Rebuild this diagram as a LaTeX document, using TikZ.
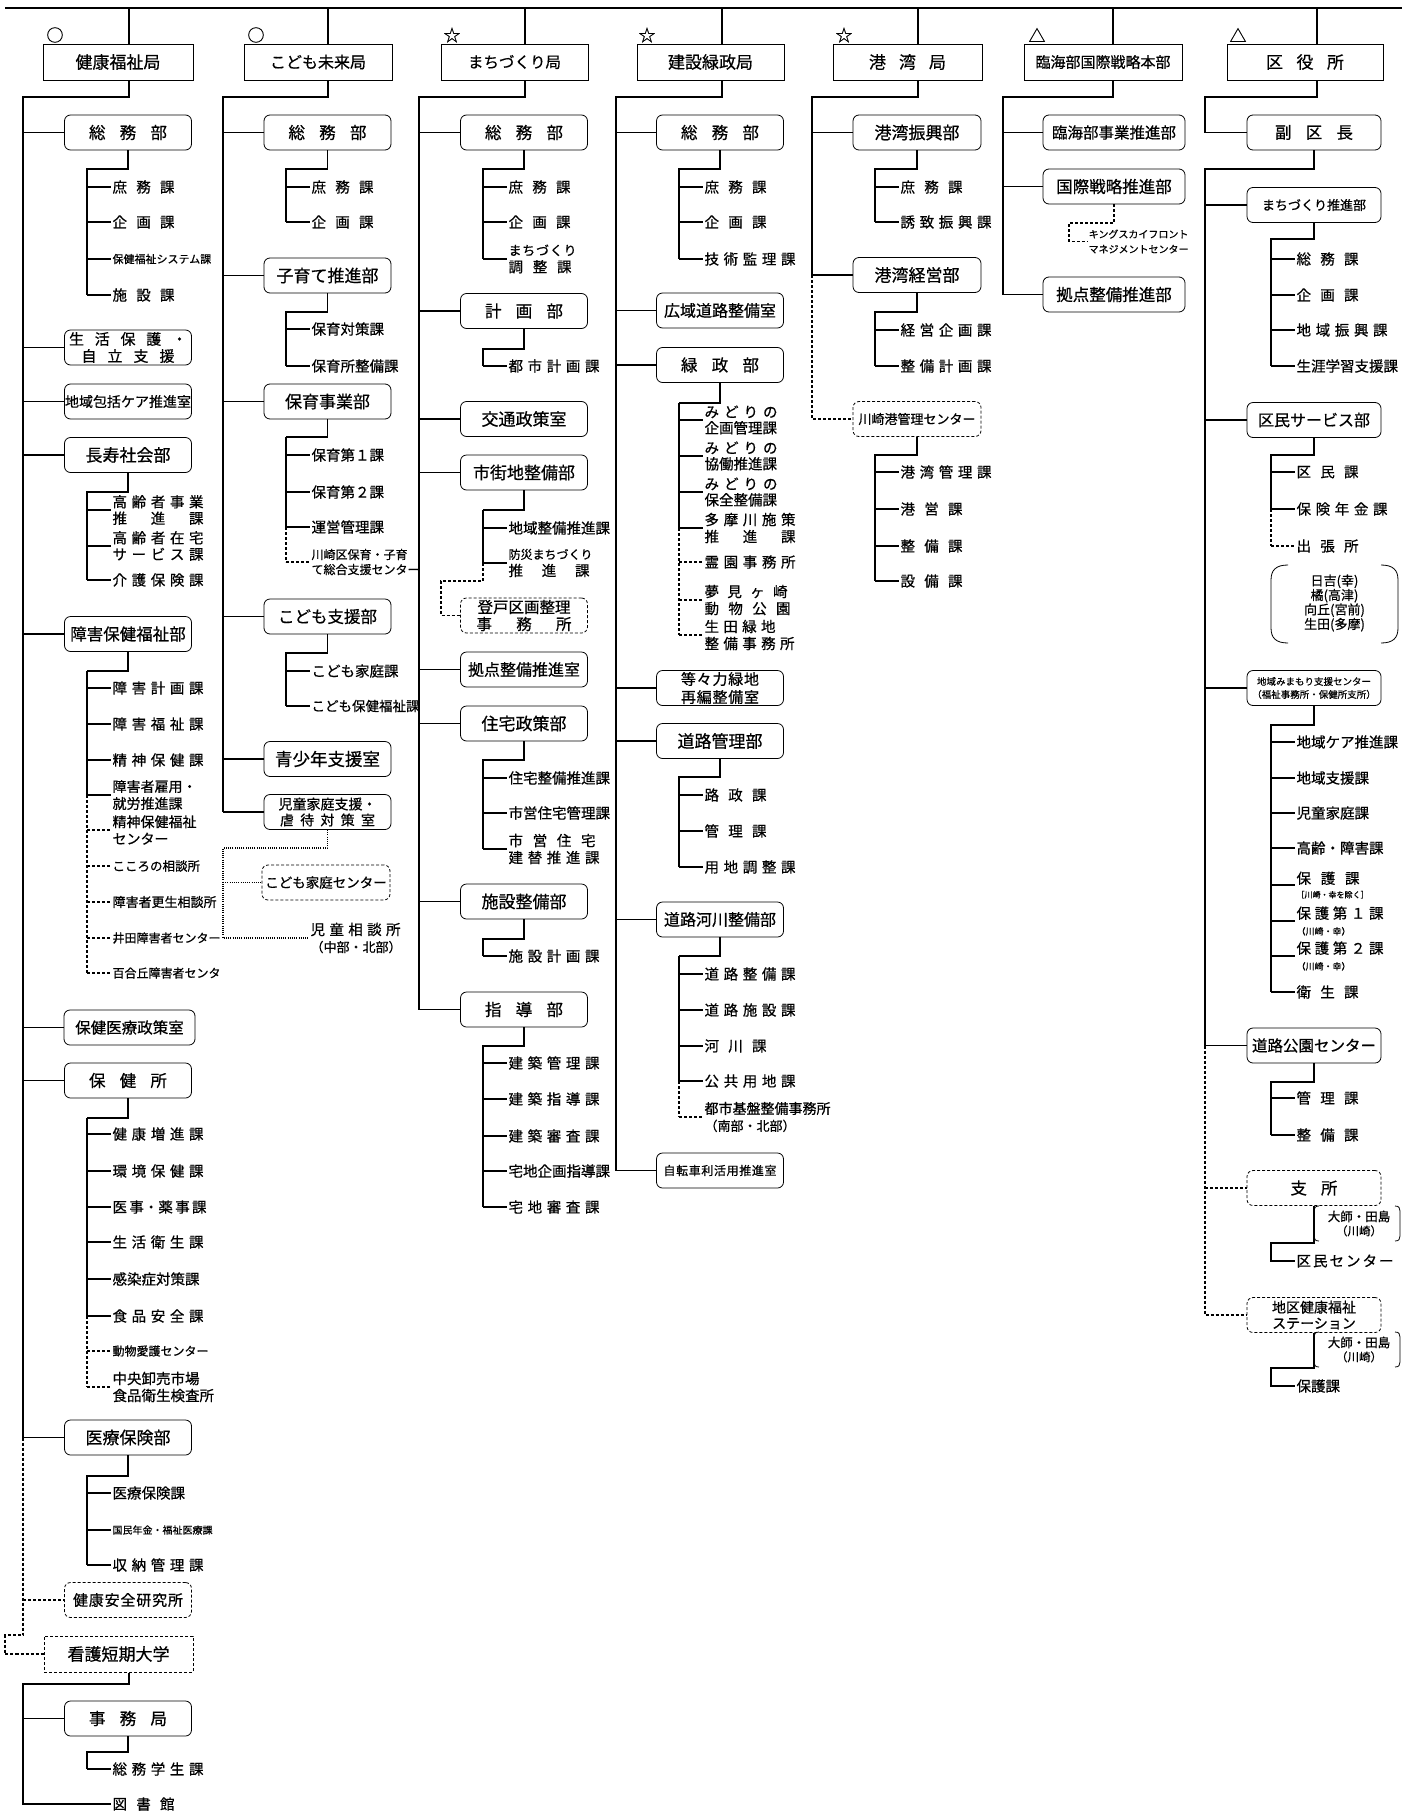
\documentclass[tikz,border=0pt]{standalone}
\usepackage{fontspec}
\setmainfont{Noto Sans CJK JP}[FakeBold=0.6]
\newcommand\spr[2]{\makebox[#1pt][s]{\spaceskip=0pt plus 1fil\relax #2}}
\newcommand\fsz[2]{\fontsize{#1}{#2}\selectfont}
\newcommand\lfnode[5][]{\node[leafn,#1] (#2) at ({#3+24},#4) {#5}; \draw (#3,#4) -- (#2.west);}
\newcommand\lfnoded[5][]{\node[leafn,#1] (#2) at ({#3+24},#4) {#5}; \draw[dsh] (#3,#4) -- (#2.west);}
\begin{document}
\begin{tikzpicture}[x=1pt,y=-1pt,line width=1.1pt,
 kyoku/.style={draw,line width=1pt,minimum height=36pt,inner sep=0pt,font=\fsz{17}{20}},
 bubox/.style={draw,line width=0.8pt,rounded corners=6pt,minimum width=127pt,minimum height=35pt,inner sep=0pt,align=center,font=\fsz{16.5}{19}},
 dsh/.style={dash pattern=on 3pt off 2pt},
 dotl/.style={dash pattern=on 1pt off 1.2pt},
 thk/.style={line width=2.2pt},
 leafn/.style={anchor=west,inner sep=1pt,align=left,font=\fsz{14.5}{17}},
 sym/.style={inner sep=0pt,font=\fsz{17}{19}},
 brk/.style={line width=0.8pt}]
\fill[white] (0,0) rectangle (1414,1820);
\useasboundingbox (0,0) rectangle (1414,1820);
\draw (5,8) -- (1402,8);

% ================= Column 1
\coordinate (c1) at (129,8);
\coordinate (T1) at (23,97);
\node[kyoku,minimum width=150pt] (K1) at (118,62) {健康福祉局};
\node[sym] (s1) at (55,35) {○};
\node[bubox] (A1) at (128,132.5) {\spr{78}{総 務 部}};
\node[bubox,font=\fsz{15}{17}] (A2) at (128,347.5) {\spr{118}{生 活 保 護 ・}\\\spr{93}{自 立 支 援}};
\node[bubox,font=\fsz{14}{17}] (A3) at (128,401.5) {地域包括ケア推進室};
\node[bubox,font=\fsz{17}{20}] (A4) at (128,455) {長寿社会部};
\node[bubox] (A5) at (128,634) {障害保健福祉部};
\node[bubox,minimum width=131pt,font=\fsz{15.5}{18}] (A6) at (129.5,1027.5) {保健医療政策室};
\node[bubox] (A7) at (128,1080.5) {\spr{78}{保 健 所}};
\node[bubox,font=\fsz{17}{20}] (A8) at (128,1437.5) {医療保険部};
\node[bubox,dsh,font=\fsz{15}{18}] (A9) at (128,1600) {\spr{110}{健 康 安 全 研 究 所}};
\node[kyoku,dsh,minimum width=149pt] (A10) at (118.5,1654) {看護短期大学};
\node[bubox] (A11) at (128,1718.5) {\spr{78}{事 務 局}};
\draw (c1) -- (c1 |- K1.north);
\draw (c1 |- K1.south) |- (T1) -- (T1 |- A8.west);
\foreach \n in {A1,A2,A3,A4,A5,A6,A7,A8,A11} {\draw (T1 |- \n.west) -- (\n.west);}
\draw[dsh] (T1 |- A8.west) -- (23,1635) -- (5,1635) |- (A10.west);
\draw[dsh] (T1 |- A9.west) -- (A9.west);
\node[leafn] (a12) at (111,1804) {\spr{62}{図 書 館}};
\draw (c1 |- A10.south) |- (23,1684) |- (a12.west);

\draw (A1.south) |- (87,169) -- (87,295);
\lfnode{a1a}{87}{187}{\spr{62}{庶 務 課}}
\lfnode{a1b}{87}{222}{\spr{62}{企 画 課}}
\lfnode[font=\fsz{11}{13}]{a1c}{87}{259}{保健福祉システム課}
\lfnode{a1d}{87}{295}{\spr{62}{施 設 課}}

\draw (A4.south) |- (87,492) -- (87,580);
\lfnode[font=\fsz{14.5}{16.5}]{a4a}{87}{510}{\spr{91}{高 齢 者 事 業}\\\spr{91}{推 進 課}}
\lfnode[font=\fsz{14.5}{16.5}]{a4b}{87}{546}{\spr{91}{高 齢 者 在 宅}\\\spr{91}{サ ー ビ ス 課}}
\lfnode{a4c}{87}{580}{\spr{91}{介 護 保 険 課}}

\draw (A5.south) |- (87,671);
\draw[thk] (87,671) -- (87,795);
\draw[dsh] (87,795) -- (87,973);
\lfnode{a5a}{87}{688}{\spr{91}{障 害 計 画 課}}
\lfnode{a5b}{87}{724}{\spr{91}{障 害 福 祉 課}}
\lfnode{a5c}{87}{760}{\spr{91}{精 神 保 健 課}}
\lfnode[font=\fsz{14}{17}]{a5d}{87}{795}{障害者雇用・\\就労推進課}
\lfnoded[font=\fsz{14}{17}]{a5e}{87}{830}{精神保健福祉\\センター}
\lfnoded[font=\fsz{12.5}{15}]{a5f}{87}{866}{こころの相談所}
\lfnoded[font=\fsz{13}{15}]{a5g}{87}{902}{障害者更生相談所}
\lfnoded[font=\fsz{12}{15}]{a5h}{87}{938}{井田障害者センター}
\lfnoded[font=\fsz{12}{15}]{a5i}{87}{973}{百合丘障害者センタ}

\draw (A7.south) |- (87,1118);
\draw[thk] (87,1118) -- (87,1316);
\draw[dsh] (87,1316) -- (87,1387);
\lfnode{a7a}{87}{1134}{\spr{91}{健 康 増 進 課}}
\lfnode{a7b}{87}{1171}{\spr{91}{環 境 保 健 課}}
\lfnode{a7c}{87}{1207}{\spr{94}{医 事・薬 事 課}}
\lfnode{a7d}{87}{1242}{\spr{91}{生 活 衛 生 課}}
\lfnode{a7e}{87}{1279}{感染症対策課}
\lfnode{a7f}{87}{1316}{\spr{91}{食 品 安 全 課}}
\lfnoded[font=\fsz{12}{15}]{a7g}{87}{1351}{動物愛護センター}
\lfnoded{a7h}{87}{1387}{中央卸売市場\\食品衛生検査所}

\draw (A8.south) |- (87,1476) -- (87,1565);
\lfnode{a8a}{87}{1493}{医療保険課}
\lfnode[font=\fsz{10}{12}]{a8b}{87}{1530}{国民年金・福祉医療課}
\lfnode{a8c}{87}{1565}{\spr{91}{収 納 管 理 課}}

\draw (A11.south) |- (87,1752) -- (87,1769);
\lfnode{a11a}{87}{1769}{\spr{91}{総 務 学 生 課}}

% ================= Column 2
\coordinate (c2) at (328,8);
\coordinate (T2) at (223,97);
\node[kyoku,minimum width=148pt,font=\fsz{16}{19}] (K2) at (318,62) {こども未来局};
\node[sym] (s2) at (256,35) {○};
\node[bubox] (B1) at (327.5,132.5) {\spr{78}{総 務 部}};
\node[bubox,font=\fsz{17}{20}] (B2) at (327.5,275.5) {子育て推進部};
\node[bubox,font=\fsz{17}{20}] (B3) at (327.5,401.5) {保育事業部};
\node[bubox] (B4) at (327.5,616.5) {こども支援部};
\node[bubox,font=\fsz{17.5}{20}] (B5) at (327.5,759) {青少年支援室};
\node[bubox,font=\fsz{14}{16}] (B6) at (327.5,812) {児童家庭支援・\\\spr{95}{虐 待 対 策 室}};
\node[bubox,dsh,minimum width=128pt,font=\fsz{13.5}{16}] (B7) at (326,882.5) {こども家庭センター};
\node[leafn] (b8) at (309,938) {\spr{90}{児 童 相 談 所}\\{\fsz{13}{15}（中部・北部）}};
\draw (c2) -- (c2 |- K2.north);
\draw (c2 |- K2.south) |- (T2) -- (T2 |- B6.west);
\foreach \n in {B1,B2,B3,B4,B5,B6} {\draw (T2 |- \n.west) -- (\n.west);}
\draw[dotl] (B6.south) |- (223,848) |- (b8.west);
\draw[dotl] (B7.west -| T2) -- (B7.west);

\draw (B1.south) |- (286,169) -- (286,222);
\lfnode{b1a}{286}{187}{\spr{62}{庶 務 課}}
\lfnode{b1b}{286}{222}{\spr{62}{企 画 課}}
\draw (B2.south) |- (286,312) -- (286,366);
\lfnode{b2a}{286}{329}{保育対策課}
\lfnode{b2b}{286}{366}{保育所整備課}
\draw (B3.south) |- (286,437);
\draw[thk] (286,437) -- (286,527);
\draw[dsh] (286,527) -- (286,562);
\lfnode{b3a}{286}{455}{保育第１課}
\lfnode{b3b}{286}{492}{保育第２課}
\lfnode{b3c}{286}{527}{運営管理課}
\lfnoded[font=\fsz{12}{15}]{b3d}{286}{562}{川崎区保育・子育\\て総合支援センター}
\draw (B4.south) |- (286,653) -- (286,706);
\lfnode{b4a}{286}{671}{こども家庭課}
\lfnode[font=\fsz{13.5}{16}]{b4b}{286}{706}{こども保健福祉課}

% ================= Column 3
\coordinate (c3) at (525,8);
\coordinate (T3) at (419,97);
\node[kyoku,minimum width=147pt,font=\fsz{15.5}{18}] (K3) at (514.5,62) {まちづくり局};
\node[sym] (s3) at (452,35) {☆};
\node[bubox] (C1) at (524,132.5) {\spr{78}{総 務 部}};
\node[bubox] (C2) at (524,311) {\spr{78}{計 画 部}};
\node[bubox,font=\fsz{17}{20}] (C3) at (524,419) {交通政策室};
\node[bubox,font=\fsz{17}{20}] (C4) at (524,472.5) {市街地整備部};
\node[bubox,dsh,font=\fsz{15.5}{17}] (C5) at (524,615.5) {登戸区画整理\\\spr{95}{事 務 所}};
\node[bubox,font=\fsz{16}{19}] (C6) at (524,669.5) {拠点整備推進室};
\node[bubox,font=\fsz{17}{20}] (C7) at (524,723.5) {住宅政策部};
\node[bubox,font=\fsz{17}{20}] (C8) at (524,901.5) {施設整備部};
\node[bubox] (C9) at (524,1009.5) {\spr{78}{指 導 部}};
\draw (c3) -- (c3 |- K3.north);
\draw (c3 |- K3.south) |- (T3) -- (T3 |- C9.west);
\foreach \n in {C1,C2,C3,C4,C6,C7,C8,C9} {\draw (T3 |- \n.west) -- (\n.west);}

\draw (C1.south) |- (483,169) -- (483,259);
\lfnode{c1a}{483}{187}{\spr{62}{庶 務 課}}
\lfnode{c1b}{483}{222}{\spr{62}{企 画 課}}
\lfnode{c1c}{483}{259}{{\fsz{13}{15}\spr{68}{ま ち づ く り}}\\\spr{63}{調 整 課}}
\draw (C2.south) |- (483,349) -- (483,366);
\lfnode{c2a}{483}{366}{\spr{91}{都 市 計 画 課}}
\draw (C4.south) |- (483,510);
\draw[thk] (483,510) -- (483,563);
\draw[dsh] (483,563) |- (441,581) |- (C5.west);
\lfnode{c4a}{483}{528}{地域整備推進課}
\lfnode{c4b}{483}{563}{{\fsz{12}{14}防災まちづくり}\\\spr{81}{推 進 課}}
\draw (C7.south) |- (483,760) -- (483,849);
\lfnode{c7a}{483}{778}{住宅整備推進課}
\lfnode{c7b}{483}{813}{市営住宅管理課}
\lfnode{c7c}{483}{849}{\spr{87}{市 営 住 宅}\\\spr{91}{建 替 推 進 課}}
\draw (C8.south) |- (483,939) -- (483,956);
\lfnode{c8a}{483}{956}{\spr{91}{施 設 計 画 課}}
\draw (C9.south) |- (483,1046) -- (483,1207);
\lfnode{c9a}{483}{1063}{\spr{91}{建 築 管 理 課}}
\lfnode{c9b}{483}{1099}{\spr{91}{建 築 指 導 課}}
\lfnode{c9c}{483}{1136}{\spr{91}{建 築 審 査 課}}
\lfnode{c9d}{483}{1171}{宅地企画指導課}
\lfnode{c9e}{483}{1207}{\spr{91}{宅 地 審 査 課}}

% ================= Column 4
\coordinate (c4) at (722,8);
\coordinate (T4) at (616,97);
\node[kyoku,minimum width=147pt] (K4) at (710.5,62) {建設緑政局};
\node[sym] (s4) at (647,35) {☆};
\node[bubox] (D1) at (720,132.5) {\spr{78}{総 務 部}};
\node[bubox,font=\fsz{16}{19}] (D2) at (720,310.5) {広域道路整備室};
\node[bubox] (D3) at (720,365) {\spr{78}{緑 政 部}};
\node[bubox,font=\fsz{15}{18}] (D4) at (720,688) {\spr{78}{等 々 力 緑 地}\\\spr{78}{再 編 整 備 室}};
\node[bubox,font=\fsz{17}{20}] (D5) at (720,741) {道路管理部};
\node[bubox,font=\fsz{16}{19}] (D6) at (720,919.5) {道路河川整備部};
\node[bubox,font=\fsz{12}{14}] (D7) at (720,1170.5) {\spr{113}{自 転 車 利 活 用 推 進 室}};
\draw (c4) -- (c4 |- K4.north);
\draw (c4 |- K4.south) |- (T4) -- (T4 |- D7.west);
\foreach \n in {D1,D2,D3,D4,D5,D6,D7} {\draw (T4 |- \n.west) -- (\n.west);}

\draw (D1.south) |- (679,169) -- (679,259);
\lfnode{d1a}{679}{187}{\spr{62}{庶 務 課}}
\lfnode{d1b}{679}{222}{\spr{62}{企 画 課}}
\lfnode{d1c}{679}{259}{\spr{91}{技 術 監 理 課}}
\draw (D3.south) |- (679,403);
\draw[thk] (679,403) -- (679,528);
\draw[dsh] (679,528) -- (679,635);
\lfnode[font=\fsz{14.5}{16}]{d3a}{679}{420}{\spr{73}{み ど り の}\\企画管理課}
\lfnode[font=\fsz{14.5}{16}]{d3b}{679}{456}{\spr{73}{み ど り の}\\協働推進課}
\lfnode[font=\fsz{14.5}{16}]{d3c}{679}{492}{\spr{73}{み ど り の}\\保全整備課}
\lfnode[font=\fsz{14.5}{17}]{d3d}{679}{528}{\spr{91}{多 摩 川 施 策}\\\spr{91}{推 進 課}}
\lfnoded{d3e}{679}{562}{\spr{91}{霊 園 事 務 所}}
\lfnoded[font=\fsz{14.5}{17}]{d3f}{679}{600}{\spr{83}{夢 見 ヶ 崎}\\\spr{86}{動 物 公 園}}
\lfnoded[font=\fsz{14.5}{17}]{d3g}{679}{635}{\spr{71}{生 田 緑 地}\\\spr{90}{整 備 事 務 所}}
\draw (D5.south) |- (679,777) -- (679,867);
\lfnode{d5a}{679}{795}{\spr{62}{路 政 課}}
\lfnode{d5b}{679}{831}{\spr{62}{管 理 課}}
\lfnode{d5c}{679}{867}{\spr{91}{用 地 調 整 課}}
\draw (D6.south) |- (679,956);
\draw[thk] (679,956) -- (679,1081);
\draw[dsh] (679,1081) -- (679,1117);
\lfnode{d6a}{679}{974}{\spr{91}{道 路 整 備 課}}
\lfnode{d6b}{679}{1010}{\spr{91}{道 路 施 設 課}}
\lfnode{d6c}{679}{1046}{\spr{62}{河 川 課}}
\lfnode{d6d}{679}{1081}{\spr{91}{公 共 用 地 課}}
\lfnoded[font=\fsz{14}{17}]{d6e}{679}{1117}{都市基盤整備事務所\\{\fsz{13}{15}（南部・北部）}}

% ================= Column 5
\coordinate (c5) at (918,8);
\coordinate (T5) at (812,97);
\node[kyoku,minimum width=149pt] (K5) at (907.5,62) {\spr{77}{港 湾 局}};
\node[sym] (s5) at (844,35) {☆};
\node[bubox,minimum width=128pt,font=\fsz{17}{20}] (E1) at (917,132.5) {港湾振興部};
\node[bubox,minimum width=128pt,font=\fsz{17}{20}] (E2) at (917,275) {港湾経営部};
\node[bubox,dsh,minimum width=128pt,font=\fsz{13}{16}] (E3) at (917,419) {川崎港管理センター};
\draw (c5) -- (c5 |- K5.north);
\draw (c5 |- K5.south) |- (T5) -- (T5 |- E2.west);
\draw (T5 |- E1.west) -- (E1.west);
\draw (T5 |- E2.west) -- (E2.west);
\draw[dsh] (T5 |- E2.west) |- (E3.west);
\draw (E1.south) |- (875,169) -- (875,222);
\lfnode{e1a}{875}{187}{\spr{62}{庶 務 課}}
\lfnode{e1b}{875}{222}{\spr{91}{誘 致 振 興 課}}
\draw (E2.south) |- (875,312) -- (875,366);
\lfnode{e2a}{875}{330}{\spr{91}{経 営 企 画 課}}
\lfnode{e2b}{875}{366}{\spr{91}{整 備 計 画 課}}
\draw (E3.south) |- (875,455) -- (875,581);
\lfnode{e3a}{875}{472}{\spr{91}{港 湾 管 理 課}}
\lfnode{e3b}{875}{509}{\spr{62}{港 営 課}}
\lfnode{e3c}{875}{546}{\spr{62}{整 備 課}}
\lfnode{e3d}{875}{581}{\spr{62}{設 備 課}}

% ================= Column 6
\coordinate (c6) at (1113,8);
\coordinate (T6) at (1003,97);
\node[kyoku,minimum width=158pt,font=\fsz{15}{18}] (K6) at (1103,62) {臨海部国際戦略本部};
\node[sym] (s6) at (1037,35) {△};
\node[bubox,minimum width=142pt,font=\fsz{15.5}{18}] (F1) at (1114,132.5) {臨海部事業推進部};
\node[bubox,minimum width=142pt] (F2) at (1114,186.5) {国際戦略推進部};
\node[bubox,minimum width=142pt] (F3) at (1114,294.5) {拠点整備推進部};
\node[anchor=west,inner sep=1pt,align=center,font=\fsz{10}{15}] (f2a) at (1087,241.5) {キングスカイフロント\\マネジメントセンター};
\draw (c6) -- (c6 |- K6.north);
\draw (c6 |- K6.south) |- (T6) -- (T6 |- F3.west);
\foreach \n in {F1,F2,F3} {\draw (T6 |- \n.west) -- (\n.west);}
\draw[dsh] (F2.south) |- (1069,223) |- (f2a.west);

% ================= Column 7
\coordinate (c7) at (1317,8);
\coordinate (T7) at (1205,97);
\coordinate (T7b) at (1205,169);
\node[kyoku,minimum width=156pt] (K7) at (1305,62) {\spr{78}{区 役 所}};
\node[sym] (s7) at (1238,35) {△};
\node[bubox,minimum width=134pt] (G1) at (1314,132.5) {\spr{78}{副 区 長}};
\node[bubox,minimum width=134pt,font=\fsz{13}{16}] (G2) at (1314,205) {まちづくり推進部};
\node[bubox,minimum width=134pt,font=\fsz{16}{19}] (G3) at (1314,420) {区民サービス部};
\node[bubox,minimum width=134pt,font=\fsz{9.5}{13}] (G4) at (1314,688) {地域みまもり支援センター\\（福祉事務所・保健所支所）};
\node[bubox,minimum width=134pt,font=\fsz{15.5}{18}] (G5) at (1314,1045.5) {道路公園センター};
\node[bubox,dsh,minimum width=134pt] (G6) at (1314,1188) {\spr{47}{支 所}};
\node[bubox,dsh,minimum width=134pt,font=\fsz{14}{16}] (G7) at (1314,1315) {地区健康福祉\\ステーション};
\draw (c7) -- (c7 |- K7.north);
\draw (c7 |- K7.south) |- (T7) |- (G1.west);
\draw (G1.south) |- (T7b) -- (T7b |- G5.west);
\foreach \n in {G2,G3,G4,G5} {\draw (T7b |- \n.west) -- (\n.west);}
\draw[dsh] (T7b |- G5.west) -- (T7b |- G7.west) -- (G7.west);
\draw[dsh] (T7b |- G6.west) -- (G6.west);

\draw (G2.south) |- (1271,239) -- (1271,366);
\lfnode{g2a}{1271}{259}{\spr{62}{総 務 課}}
\lfnode{g2b}{1271}{295}{\spr{62}{企 画 課}}
\lfnode{g2c}{1271}{330}{\spr{91}{地 域 振 興 課}}
\lfnode{g2d}{1271}{366}{生涯学習支援課}
\draw (G3.south) |- (1271,455) -- (1271,509);
\draw[dsh] (1271,509) -- (1271,546);
\lfnode{g3a}{1271}{472}{\spr{62}{区 民 課}}
\lfnode{g3b}{1271}{509}{\spr{91}{保 険 年 金 課}}
\lfnoded{g3c}{1271}{546}{\spr{62}{出 張 所}}
\node[inner sep=0pt,align=center,font=\fsz{13}{14.5}] (g3d) at (1334.5,603) {日吉(幸)\\橘(高津)\\向丘(宮前)\\生田(多摩)};
\draw[brk] (1288,565) .. controls (1276,565) and (1271,570) .. (1271,580) -- (1271,628) .. controls (1271,638) and (1276,643) .. (1288,643);
\draw[brk] (1381,565) .. controls (1393,565) and (1398,570) .. (1398,580) -- (1398,628) .. controls (1398,638) and (1393,643) .. (1381,643);

\draw (G4.south) |- (1271,725) -- (1271,992);
\lfnode{g4a}{1271}{742}{地域ケア推進課}
\lfnode{g4b}{1271}{778}{地域支援課}
\lfnode{g4c}{1271}{813}{児童家庭課}
\lfnode{g4d}{1271}{848}{高齢・障害課}
\lfnode[font=\fsz{14.5}{14}]{g4e}{1271}{885}{\spr{63}{保 護 課}\\{\fsz{8}{9}［川崎・幸を除く］}}
\lfnode[font=\fsz{14.5}{16}]{g4f}{1271}{921}{\spr{87}{保 護 第 １ 課}\\{\fsz{9}{10}（川崎・幸）}}
\lfnode[font=\fsz{14.5}{16}]{g4g}{1271}{956}{\spr{87}{保 護 第 ２ 課}\\{\fsz{9}{10}（川崎・幸）}}
\lfnode{g4h}{1271}{992}{\spr{62}{衛 生 課}}
\draw (G5.south) |- (1271,1082) -- (1271,1135);
\lfnode{g5a}{1271}{1098}{\spr{62}{管 理 課}}
\lfnode{g5b}{1271}{1135}{\spr{62}{整 備 課}}

\node[leafn] (g6a) at (1295,1261) {\spr{97}{区 民 セ ン タ ー}};
\draw (G6.south) |- (1271,1243) |- (g6a.west);
\node[inner sep=0pt,align=center,font=\fsz{12.5}{14}] (g6b) at (1359,1223.5) {大師・田島\\{\fsz{11.5}{13}（川崎）}};
\draw[brk] (1319,1206) .. controls (1315,1206) and (1314,1208) .. (1314,1211) -- (1314,1236) .. controls (1314,1239) and (1315,1241) .. (1319,1241);
\draw[brk] (1395,1206) .. controls (1399,1206) and (1400,1208) .. (1400,1211) -- (1400,1236) .. controls (1400,1239) and (1399,1241) .. (1395,1241);

\node[leafn] (g7a) at (1295,1386) {保護課};
\draw (G7.south) |- (1271,1368) |- (g7a.west);
\node[inner sep=0pt,align=center,font=\fsz{12.5}{14}] (g7b) at (1359,1349.5) {大師・田島\\{\fsz{11.5}{13}（川崎）}};
\draw[brk] (1319,1332) .. controls (1315,1332) and (1314,1334) .. (1314,1337) -- (1314,1362) .. controls (1314,1365) and (1315,1367) .. (1319,1367);
\draw[brk] (1395,1332) .. controls (1399,1332) and (1400,1334) .. (1400,1337) -- (1400,1362) .. controls (1400,1365) and (1399,1367) .. (1395,1367);
\end{tikzpicture}
\end{document}
